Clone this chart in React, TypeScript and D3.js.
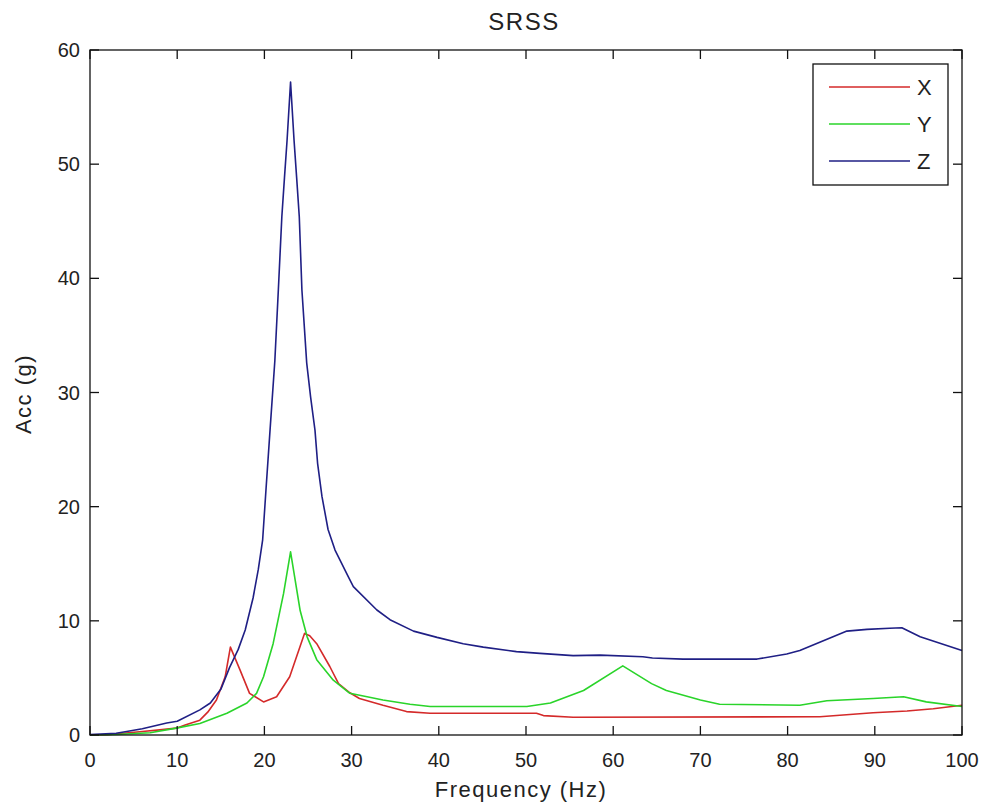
import React from "react";
import * as d3 from "d3";

const xTicks = [0, 10, 20, 30, 40, 50, 60, 70, 80, 90, 100];
const yTicks = [0, 10, 20, 30, 40, 50, 60];

const seriesNames = ["X", "Y", "Z"];
const seriesColors = ["#d42a2a", "#2ad42a", "#1f1f85"];

const xFreq = [0, 2, 3.8, 6, 8, 9.9, 11, 12.6, 13.5, 14.5, 15.5, 16.1, 17.2, 18.3, 19.9, 21.4, 22.9, 24.6, 25.2, 26, 27.5, 28.5, 29.8, 30.9, 33.6, 36.3, 39, 51.2, 52, 55.4, 83.7, 89.8, 93.7, 96.7, 100];
const xAcc = [0, 0.02, 0.15, 0.3, 0.45, 0.6, 0.9, 1.3, 2.0, 3.07, 5.1, 7.7, 5.7, 3.65, 2.9, 3.35, 5.1, 8.9, 8.7, 8.0, 6.0, 4.5, 3.7, 3.2, 2.6, 2.05, 1.9, 1.9, 1.7, 1.55, 1.6, 1.95, 2.1, 2.3, 2.6];

const yFreq = [0, 3, 6.9, 9.9, 12.6, 15.7, 18, 19.1, 19.9, 21, 22.2, 23, 24.1, 24.9, 26, 27.9, 29.8, 33.6, 36.7, 39, 50.1, 52.8, 56.6, 61.1, 64.4, 66.1, 70, 72.2, 81.4, 84.5, 89.8, 93.3, 95.9, 100];
const yAcc = [0, 0.05, 0.2, 0.6, 1.0, 1.9, 2.8, 3.65, 5.1, 8.0, 12.4, 16.05, 10.9, 8.6, 6.6, 4.8, 3.65, 3.07, 2.7, 2.5, 2.5, 2.8, 3.9, 6.05, 4.5, 3.9, 3.07, 2.7, 2.6, 3.0, 3.2, 3.35, 2.9, 2.5];

const zFreq = [0, 3, 4.2, 6, 8.8, 10, 12.6, 13.8, 15, 16, 17, 17.8, 18.7, 19.3, 19.8, 20.2, 20.7, 21.2, 21.6, 22, 22.3, 22.6, 23, 23.4, 23.7, 24, 24.3, 24.85, 25.3, 25.8, 26.1, 26.6, 27.3, 28.1, 29.6, 30.2, 32.9, 34.4, 37.1, 39.8, 42.8, 45.1, 48.9, 51.6, 55.4, 58.5, 63.4, 64.5, 68, 76.5, 79.9, 81.4, 86.8, 89.1, 91.7, 93.1, 95.2, 100];
const zAcc = [0.05, 0.15, 0.3, 0.55, 1.05, 1.2, 2.2, 2.8, 4.0, 5.9, 7.5, 9.2, 12.0, 14.5, 17.1, 21.7, 27.3, 32.8, 39, 45.4, 48.8, 52.1, 57.2, 52.1, 48.8, 45.4, 39, 32.6, 29.6, 26.7, 23.8, 20.9, 18.0, 16.2, 13.9, 13.0, 10.95, 10.1, 9.1, 8.55, 8.0, 7.7, 7.3, 7.15, 6.95, 7.0, 6.86, 6.75, 6.65, 6.65, 7.1, 7.4, 9.1, 9.25, 9.35, 9.4, 8.6, 7.4];

const seriesFreq = [xFreq, yFreq, zFreq];
const seriesAcc = [xAcc, yAcc, zAcc];

export default function App() {
  const left = 90, right = 962, top = 50, bottom = 735;
  const x = d3.scaleLinear().domain([0, 100]).range([left, right]);
  const y = d3.scaleLinear().domain([0, 60]).range([bottom, top]);
  const line = d3
    .line<[number, number]>()
    .x((d) => x(d[0]))
    .y((d) => y(d[1]));
  const tickLen = 9;
  const font = "'Liberation Sans', Arial, sans-serif";
  const textColor = "#222";

  return (
    <svg
      width={985}
      height={812}
      style={{ position: "absolute", left: 0, top: 0, background: "#fff" }}
      fontFamily={font}
    >
      <rect x={0} y={0} width={985} height={812} fill="#fff" />
      {seriesNames.map((name, i) => (
        <path
          key={name}
          d={line(seriesFreq[i].map((f, j) => [f, seriesAcc[i][j]] as [number, number])) || ""}
          fill="none"
          stroke={seriesColors[i]}
          strokeWidth={1.6}
          strokeLinejoin="round"
        />
      ))}
      {/* axes box */}
      <rect x={left} y={top} width={right - left} height={bottom - top} fill="none" stroke="#111" strokeWidth={1.3} />
      {xTicks.map((t) => (
        <g key={"xt" + t}>
          <line x1={x(t)} x2={x(t)} y1={bottom} y2={bottom - tickLen} stroke="#111" strokeWidth={1.3} />
          <line x1={x(t)} x2={x(t)} y1={top} y2={top + tickLen} stroke="#111" strokeWidth={1.3} />
          <text x={x(t)} y={767} textAnchor="middle" fontSize={20} fill={textColor}>
            {t}
          </text>
        </g>
      ))}
      {yTicks.map((t) => (
        <g key={"yt" + t}>
          <line x1={left} x2={left + tickLen} y1={y(t)} y2={y(t)} stroke="#111" strokeWidth={1.3} />
          <line x1={right} x2={right - tickLen} y1={y(t)} y2={y(t)} stroke="#111" strokeWidth={1.3} />
          <text x={80} y={y(t) + 7} textAnchor="end" fontSize={20} fill={textColor}>
            {t}
          </text>
        </g>
      ))}
      <text x={524} y={30} textAnchor="middle" fontSize={24} letterSpacing={1.5} fill={textColor}>
        SRSS
      </text>
      <text x={521} y={797} textAnchor="middle" fontSize={22} letterSpacing={1.5} fill={textColor}>
        Frequency (Hz)
      </text>
      <text
        transform={`translate(31,394) rotate(-90)`}
        textAnchor="middle"
        fontSize={22}
        letterSpacing={1.5}
        fill={textColor}
      >
        Acc (g)
      </text>
      {/* legend */}
      <rect x={813} y={64} width={135} height={121} fill="#fff" stroke="#111" strokeWidth={1.3} />
      {seriesNames.map((name, i) => {
        const ly = 87 + i * 37;
        return (
          <g key={"lg" + name}>
            <line x1={829} x2={910} y1={ly} y2={ly} stroke={seriesColors[i]} strokeWidth={1.6} />
            <text x={917} y={ly + 8} fontSize={22} fill={textColor}>
              {name}
            </text>
          </g>
        );
      })}
    </svg>
  );
}
